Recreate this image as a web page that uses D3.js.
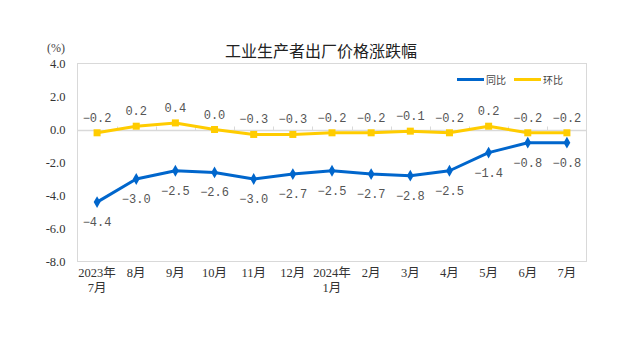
<!DOCTYPE html>
<html><head><meta charset="utf-8">
<script src="https://cdn.jsdelivr.net/npm/d3@7"></script>
<style>html,body{margin:0;padding:0;background:#fff;}svg{display:block;}</style>
</head><body>
<svg id="c" width="640" height="343"></svg>
<script>
const categories = [["2023年","7月"],["8月"],["9月"],["10月"],["11月"],["12月"],["2024年","1月"],["2月"],["3月"],["4月"],["5月"],["6月"],["7月"]];
const yoyValues = [-4.4,-3.0,-2.5,-2.6,-3.0,-2.7,-2.5,-2.7,-2.8,-2.5,-1.4,-0.8,-0.8];
const momValues = [-0.2,0.2,0.4,0.0,-0.3,-0.3,-0.2,-0.2,-0.1,-0.2,0.2,-0.2,-0.2];
const yTicks = [4,2,0,-2,-4,-6,-8];
const seriesNames = ["同比","环比"];
const title = "工业生产者出厂价格涨跌幅";
const unit = "(%)";

const svg = d3.select("#c");
const L = 77.5, R = 586.5, T = 63.5, B = 261.5;
const x = d3.scaleBand().domain(d3.range(categories.length)).range([L, R]).padding(0);
const y = d3.scaleLinear().domain([-8, 4]).range([B, T]);
const blue = "#0066CC", yellow = "#FFCC00", grid = "#d9d9d9";
const loc = d3.formatLocale({decimal:".",thousands:",",grouping:[3],currency:["",""],minus:"-"});
const f1 = loc.format(".1f");
const fl = d3.format(".1f");

// title
svg.append("text").attr("x", 321).attr("y", 57).attr("text-anchor","middle")
  .attr("font-family","'Noto Sans CJK SC'").attr("font-size",16).attr("fill","#222").text(title);
svg.append("text").attr("x", 56).attr("y", 52).attr("text-anchor","middle")
  .attr("font-family","'Liberation Serif'").attr("font-size",12).attr("fill","#444").text(unit);

// plot box
svg.append("rect").attr("x",L).attr("y",T).attr("width",R-L).attr("height",B-T)
  .attr("fill","none").attr("stroke",grid).attr("stroke-width",1);

// y axis
const yAxis = d3.axisLeft(y).tickValues(yTicks).tickFormat(f1).tickSize(0).tickPadding(12);
const ga = svg.append("g").attr("transform",`translate(${L},0)`).call(yAxis);
ga.select(".domain").remove();
ga.selectAll("text").attr("font-family","'Liberation Serif'").attr("font-size",12.5).attr("fill","#333");

// zero line with ticks
const gx = svg.append("g").attr("transform",`translate(0,${Math.round(y(0))+0.5})`);
gx.append("line").attr("x1",L).attr("x2",R).attr("stroke",grid).attr("stroke-width",1.5);
gx.selectAll("line.t").data(d3.range(1,categories.length)).join("line").attr("class","t")
  .attr("x1",d=>Math.round(x(d))+0.5).attr("x2",d=>Math.round(x(d))+0.5).attr("y1",0).attr("y2",-4)
  .attr("stroke",grid);

// category labels
const cx = i => x(i) + x.bandwidth()/2;
const cat = svg.append("g");
categories.forEach((lines,i)=>{
  const t = cat.append("text").attr("text-anchor","middle")
    .attr("font-family","'Liberation Serif','Noto Sans CJK SC'").attr("font-size",12.5).attr("fill","#333");
  lines.forEach((s,j)=>{
    t.append("tspan").attr("x",cx(i)).attr("y",277+j*15).text(s);
  });
});

// lines
const line = d3.line().x((d,i)=>cx(i)).y(d=>y(d));
svg.append("path").datum(yoyValues).attr("d",line).attr("fill","none").attr("stroke",blue).attr("stroke-width",3).attr("stroke-linejoin","round");
svg.append("path").datum(momValues).attr("d",line).attr("fill","none").attr("stroke",yellow).attr("stroke-width",3).attr("stroke-linejoin","round");

// markers
const dia = d3.symbol().type(d3.symbolDiamond).size(40);
svg.append("g").selectAll("path").data(yoyValues).join("path")
  .attr("d",dia).attr("transform",(d,i)=>`translate(${cx(i)},${y(d)})`).attr("fill",blue);
svg.append("g").selectAll("rect").data(momValues).join("rect")
  .attr("x",(d,i)=>cx(i)-3.5).attr("y",d=>y(d)-3.5).attr("width",7).attr("height",7).attr("fill",yellow);

// data labels
svg.append("g").selectAll("text").data(yoyValues).join("text")
  .attr("x",(d,i)=>cx(i)).attr("y",d=>y(d)+24).attr("text-anchor","middle")
  .attr("font-family","'Liberation Mono'").attr("font-size",12).attr("fill","#555").text(d=>fl(d));
svg.append("g").selectAll("text").data(momValues).join("text")
  .attr("x",(d,i)=>cx(i)).attr("y",d=>y(d)-11).attr("text-anchor","middle")
  .attr("font-family","'Liberation Mono'").attr("font-size",12).attr("fill","#555").text(d=>fl(d));

// legend
const lg = svg.append("g").attr("font-family","'Noto Sans CJK SC'").attr("font-size",10).attr("fill","#444");
const legendItems = [{name:seriesNames[0],color:blue,x:457},{name:seriesNames[1],color:yellow,x:514}];
legendItems.forEach(it=>{
  lg.append("line").attr("x1",it.x).attr("x2",it.x+27).attr("y1",79.5).attr("y2",79.5).attr("stroke",it.color).attr("stroke-width",3);
  lg.append("text").attr("x",it.x+29).attr("y",83.5).text(it.name);
});
</script>
</body></html>
